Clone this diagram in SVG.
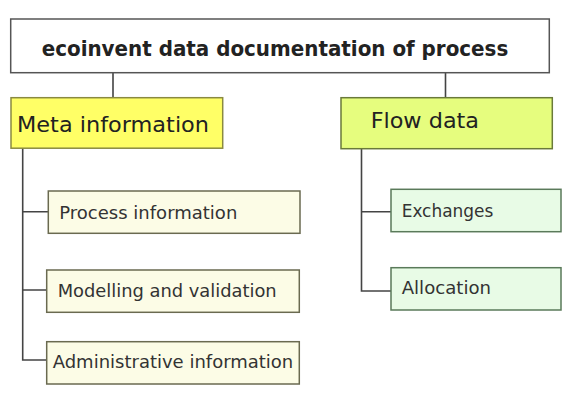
<svg xmlns="http://www.w3.org/2000/svg" width="568" height="396" viewBox="0 0 568 396">
<style>
text{font-family:"DejaVu Sans","Liberation Sans",sans-serif;fill:#222;}
.box{stroke:#555;stroke-width:1.5;}
.top{fill:#fff;}
.meta{fill:#ffff66;stroke:#8a8a40;}
.flow{fill:#e6fd7e;stroke:#6a7a3a;}
.msub{fill:#fcfce6;stroke:#6a6a50;}
.fsub{fill:#e8fbe6;stroke:#5a7a5a;}
.h1{font-size:21px;font-weight:bold;}
.h2{font-size:22px;}
.s{font-size:18px;fill:#333;}
.c{fill:none;stroke:#444;stroke-width:1.6;}
</style>
<rect width="568" height="396" fill="#fff"/>
<g id="connectors">
<path class="c" d="M113 73V98M445.5 73V98"/>
<path class="c" d="M22.7 148V360H47M22.7 211.7H48.5M22.7 290H47"/>
<path class="c" d="M361.5 148V291H391M361.5 211.7H391"/>
</g>
<g id="root">
<rect class="box top" x="10.7" y="19" width="538.6" height="53.7"/>
<text class="h1" x="41.7" y="56" textLength="466.6" lengthAdjust="spacingAndGlyphs">ecoinvent data documentation of process</text>
</g>
<g id="meta">
<rect class="box meta" x="11" y="97.7" width="211.7" height="50.5"/>
<text class="h2" x="17" y="131.7" textLength="192" lengthAdjust="spacingAndGlyphs">Meta information</text>
</g>
<g id="flow">
<rect class="box flow" x="341" y="97.7" width="211.3" height="51"/>
<text class="h2" x="370.7" y="127.7" textLength="108.3" lengthAdjust="spacingAndGlyphs">Flow data</text>
</g>
<g id="process-information">
<rect class="box msub" x="48.3" y="191" width="251.7" height="42.3"/>
<text class="s" x="59.3" y="219.3" textLength="178" lengthAdjust="spacingAndGlyphs">Process information</text>
</g>
<g id="modelling-validation">
<rect class="box msub" x="46.7" y="270" width="252.6" height="42.3"/>
<text class="s" x="57.7" y="296.7" textLength="219" lengthAdjust="spacingAndGlyphs">Modelling and validation</text>
</g>
<g id="administrative-information">
<rect class="box msub" x="46.7" y="341.7" width="252.6" height="42.3"/>
<text class="s" x="52.7" y="368.3" textLength="240.6" lengthAdjust="spacingAndGlyphs">Administrative information</text>
</g>
<g id="exchanges">
<rect class="box fsub" x="391" y="189.3" width="170" height="42.4"/>
<text class="s" x="401.7" y="216.7" textLength="91.6" lengthAdjust="spacingAndGlyphs">Exchanges</text>
</g>
<g id="allocation">
<rect class="box fsub" x="391" y="267.7" width="170" height="42.3"/>
<text class="s" x="401.7" y="294" textLength="89.3" lengthAdjust="spacingAndGlyphs">Allocation</text>
</g>
</svg>
